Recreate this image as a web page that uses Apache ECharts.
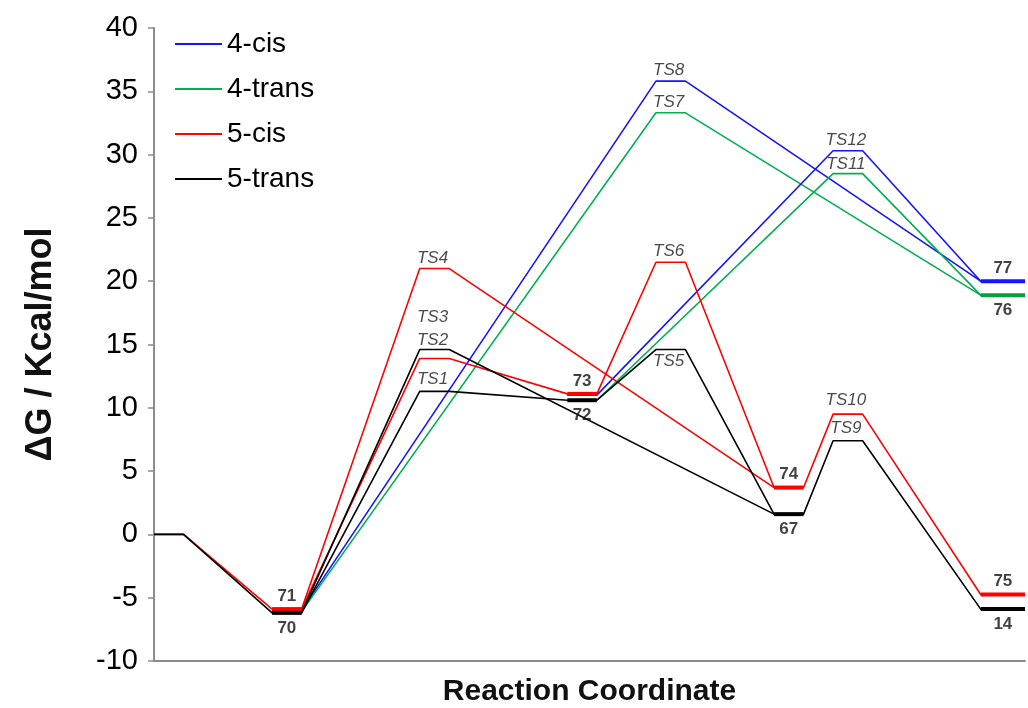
<!DOCTYPE html>
<html>
<head>
<meta charset="utf-8">
<script src="https://cdn.jsdelivr.net/npm/echarts@6/dist/echarts.min.js"></script>
<style>
  html, body { margin: 0; background: #fff; }
  #chart { width: 1028px; height: 708px; }
</style>
</head>
<body>
<div id="chart"></div>
<script>
// stage positions along the reaction coordinate (start / end of each flat level)
const stageStart = [0, 4, 9, 14, 17, 21, 23, 28]
const stageEnd = [1, 5, 10, 15, 18, 22, 24, 29.5]

// energy paths: [stage, ΔG]
const blueA = [[1, -6.0], [4, 35.8], [7, 20.0]]
const blueB = [[3, 11.0], [6, 30.3], [7, 20.0]]
const greenA = [[1, -6.1], [4, 33.3], [7, 18.9]]
const greenB = [[3, 10.6], [6, 28.5], [7, 18.9]]
const redA = [[0, 0], [1, -5.9], [2, 13.9], [3, 11.1], [4, 21.5], [5, 3.7], [6, 9.5], [7, -4.75]]
const redB = [[1, -5.9], [2, 21.0], [5, 3.7]]
const blackA = [[0, 0], [1, -6.2], [2, 11.3], [3, 10.6], [4, 14.6], [5, 1.6], [6, 7.4], [7, -5.9]]
const blackB = [[1, -6.2], [2, 14.6], [5, 1.6]]

// intermediates drawn as thick bars: [stage, label]
const redMinima = [[1, '71'], [3, '73'], [5, '74'], [7, '75']]
const blackMinima = [[1, '70'], [3, '72'], [5, '67'], [7, '14']]
const blueMinima = [[7, '77']]
const greenMinima = [[7, '76']]

// transition state labels: [label, stage, ΔG, side, distance]
const tsLabels = [
  ['TS1', 2, 11.3, 'top', 3],
  ['TS2', 2, 13.9, 'top', 9],
  ['TS3', 2, 14.6, 'top', 23],
  ['TS4', 2, 21.0, 'top', 1],
  ['TS5', 4, 14.6, 'bottom', 3],
  ['TS6', 4, 21.5, 'top', 2],
  ['TS7', 4, 33.3, 'top', 2],
  ['TS8', 4, 35.8, 'top', 2],
  ['TS9', 6, 7.4, 'top', 3],
  ['TS10', 6, 9.5, 'top', 5],
  ['TS11', 6, 28.5, 'top', 0],
  ['TS12', 6, 30.3, 'top', 2],
]

const seriesNames = ['4-cis', '4-trans', '5-cis', '5-trans']
const colors = { '4-cis': '#1414ff', '4-trans': '#00b050', '5-cis': '#ff0000', '5-trans': '#000000' }

const FONT = '"Liberation Sans", Arial, sans-serif'

const pathData = (pts) => {
  const out = []
  pts.forEach(([s, e]) => {
    out.push([stageStart[s], e], [stageEnd[s], e])
  })
  return out
}
const energyAt = (path, stage) => path.find((p) => p[0] === stage)[1]
const mid = (s) => (stageStart[s] + stageEnd[s]) / 2

const lineSeries = (name, pts, z) => ({
  type: 'line',
  name,
  data: pathData(pts),
  symbol: 'none',
  z,
  lineStyle: { color: colors[name], width: 1.6 },
  itemStyle: { color: colors[name] },
  animation: false,
  silent: true,
})

const series = [
  lineSeries('4-cis', blueA, 2),
  lineSeries('4-trans', greenA, 2),
  lineSeries('5-cis', redA, 3),
  lineSeries('5-trans', blackA, 4),
  lineSeries('4-cis', blueB, 2),
  lineSeries('4-trans', greenB, 2),
  lineSeries('5-cis', redB, 3),
  lineSeries('5-trans', blackB, 4),
]

const numLabels = []
const addBars = (name, minima, path, side) => {
  minima.forEach(([s, text]) => {
    const e = energyAt(path, s)
    series.push({
      type: 'line',
      name,
      data: [[stageStart[s], e], [stageEnd[s], e]],
      symbol: 'none',
      z: 6,
      lineStyle: { color: name === '4-trans' ? '#00a040' : colors[name], width: 4 },
      animation: false,
      silent: true,
    })
    numLabels.push({
      value: [mid(s), e],
      label: { show: true, position: side, distance: side === 'top' ? 4 : 6, formatter: text },
    })
  })
}
addBars('5-cis', redMinima, redA, 'top')
addBars('5-trans', blackMinima, blackA, 'bottom')
addBars('4-cis', blueMinima, blueA, 'top')
addBars('4-trans', greenMinima, greenA, 'bottom')

series.push({
  type: 'scatter',
  data: numLabels,
  symbolSize: 1,
  itemStyle: { color: 'rgba(0,0,0,0)' },
  label: { fontFamily: FONT, fontWeight: 'bold', fontSize: 17, color: '#111' },
  z: 10,
  animation: false,
  silent: true,
})

series.push({
  type: 'scatter',
  data: tsLabels.map(([text, s, e, side, d]) => ({
    value: [mid(s), e],
    label: { show: true, position: side, distance: d, formatter: text },
  })),
  symbolSize: 1,
  itemStyle: { color: 'rgba(0,0,0,0)' },
  label: { fontFamily: FONT, fontStyle: 'italic', fontSize: 17, color: '#1a1a1a', offset: [-2, 0] },
  z: 10,
  animation: false,
  silent: true,
})

const chart = echarts.init(document.getElementById('chart'))
chart.setOption({
  backgroundColor: '#fff',
  animation: false,
  grid: { left: 154, right: 3, top: 28, bottom: 47, containLabel: false, outerBoundsMode: 'none' },
  legend: {
    data: seriesNames,
    orient: 'vertical',
    left: 170,
    top: 25,
    icon: 'rect',
    itemWidth: 47,
    itemHeight: 2,
    itemGap: 17,
    textStyle: { fontFamily: FONT, fontSize: 28, color: '#000' },
  },
  xAxis: {
    type: 'value',
    min: 0,
    max: 29.5,
    name: 'Reaction Coordinate',
    nameLocation: 'middle',
    nameGap: 16,
    nameTextStyle: { fontFamily: FONT, fontWeight: 'bold', fontSize: 30, color: '#111', verticalAlign: 'top' },
    axisLine: { onZero: false, lineStyle: { color: '#8c8c8c', width: 2 } },
    axisTick: { show: false },
    axisLabel: { show: false },
    splitLine: { show: false },
  },
  yAxis: {
    type: 'value',
    min: -10,
    max: 40,
    interval: 5,
    name: 'ΔG / Kcal/mol',
    nameLocation: 'middle',
    nameGap: 95,
    nameTextStyle: { fontFamily: FONT, fontWeight: 'bold', fontSize: 36, color: '#111' },
    axisLine: { show: true, onZero: false, lineStyle: { color: '#8c8c8c', width: 2 } },
    axisTick: { show: true, length: 6, lineStyle: { color: '#8c8c8c', width: 1.5 } },
    axisLabel: { fontFamily: FONT, fontSize: 29, color: '#000', margin: 16 },
    splitLine: { show: false },
  },
  series,
})
</script>
</body>
</html>
